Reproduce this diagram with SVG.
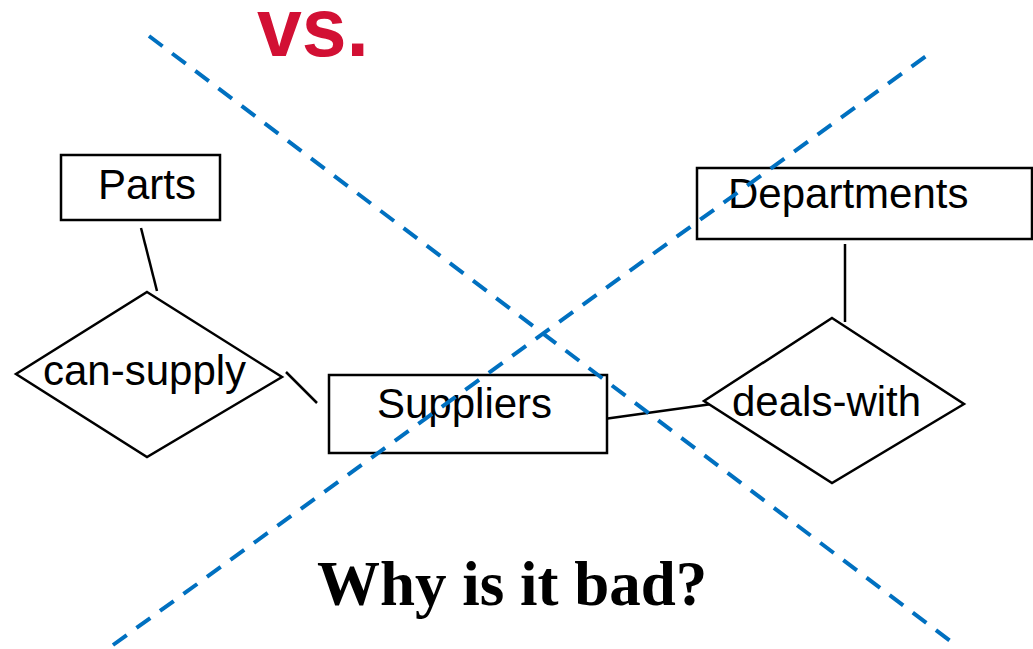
<svg xmlns="http://www.w3.org/2000/svg" width="1033" height="649" viewBox="0 0 1033 649">
<style>
.box{fill:#fff;stroke:#000;stroke-width:2.5}
.dia{fill:#fff;stroke:#000;stroke-width:2.5}
.lbl{font-family:"Liberation Sans",Arial,sans-serif;font-size:42px;fill:#000}
.conn line{stroke:#000;stroke-width:2.5}
.cross line{stroke:#0070C0;stroke-width:4;stroke-dasharray:17 12;fill:none}
</style>
<rect width="1033" height="649" fill="#fff"/>
<g class="conn" id="connectors">
<line x1="141" y1="228" x2="157" y2="291"/>
<line x1="286" y1="372" x2="317" y2="403"/>
<line x1="604" y1="419" x2="712" y2="404"/>
<line x1="845" y1="244" x2="845" y2="322"/>
</g>
<g id="parts"><rect class="box" x="61" y="155" width="159" height="65"/><text class="lbl" x="98" y="199">Parts</text></g>
<g id="can-supply"><polygon class="dia" points="147,292 282,377 147,457 16,374"/><text class="lbl" x="43" y="385">can-supply</text></g>
<g id="suppliers"><rect class="box" x="329" y="375" width="278" height="78"/><text class="lbl" x="377" y="418">Suppliers</text></g>
<g id="departments"><rect class="box" x="697" y="168" width="335" height="71"/><text class="lbl" x="728" y="208">Departments</text></g>
<g id="deals-with"><polygon class="dia" points="832,318 964,404 832,483 704,401"/><text class="lbl" x="732" y="416">deals-with</text></g>
<g class="cross" id="cross">
<line x1="149" y1="36" x2="953" y2="643"/>
<line x1="113" y1="645" x2="929" y2="54"/>
</g>
<text x="257" y="56" font-family="'Liberation Sans',Arial,sans-serif" font-weight="bold" font-size="84" fill="#D21034" textLength="112" lengthAdjust="spacingAndGlyphs">vs.</text>
<text x="317" y="605" font-family="'Liberation Serif','Times New Roman',serif" font-weight="bold" font-size="63" fill="#000">Why is it bad?</text>
</svg>
